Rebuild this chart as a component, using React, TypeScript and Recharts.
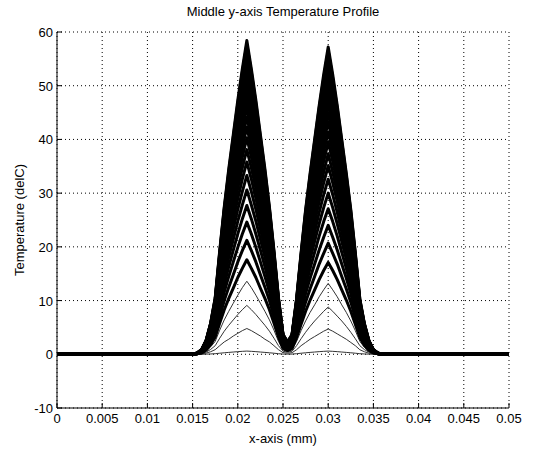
import { LineChart, Line, XAxis, YAxis, CartesianGrid } from "recharts"

const xs = [
  0, 0.015, 0.0155, 0.016, 0.0165, 0.017, 0.0175, 0.018, 0.0185, 0.019, 0.0195, 0.02, 0.0205, 0.021, 0.0215, 0.022,
  0.0225, 0.023, 0.0235, 0.024, 0.0245, 0.025, 0.0255, 0.026, 0.0265, 0.027, 0.0275, 0.028, 0.0285, 0.029, 0.0295,
  0.03, 0.0305, 0.031, 0.0315, 0.032, 0.0325, 0.033, 0.0335, 0.034, 0.0345, 0.035, 0.0355, 0.036, 0.05,
]

// temperature profiles, one per time step (delC)
const c01 = [0,0, 0,0.01,0.03,0.06, 0.11,0.2,0.28,0.35,0.42,0.49,0.55,0.6,0.55,0.49,0.42,0.35,0.28,0.2,0.11, 0.04,0.02,0.04, 0.11,0.2,0.28,0.35,0.42,0.49,0.55,0.6,0.55,0.49,0.42,0.35,0.28,0.2,0.11, 0.06,0.03,0.01,0, 0,0]
const c02 = [0,0, 0.02,0.07,0.22,0.48, 0.86,1.6,2.3,2.8,3.4,3.9,4.4,4.8,4.4,3.9,3.4,2.8,2.3,1.6,0.86, 0.31,0.19,0.3, 0.85,1.6,2.2,2.8,3.3,3.8,4.3,4.7,4.3,3.8,3.3,2.8,2.2,1.6,0.85, 0.47,0.21,0.07,0.02, 0,0]
const c03 = [0,0, 0.04,0.14,0.41,0.91, 1.6,3,4.3,5.4,6.4,7.4,8.3,9.1,8.3,7.4,6.4,5.4,4.3,3,1.6, 0.59,0.36,0.57, 1.6,2.9,4.1,5.2,6.2,7.1,8,8.8,8,7.1,6.2,5.2,4.1,2.9,1.6, 0.88,0.4,0.13,0.04, 0,0]
const c04 = [0,0, 0.05,0.2,0.61,1.4, 2.4,4.5,6.4,8,9.5,11,12.4,13.6,12.4,11,9.5,8,6.4,4.5,2.4, 0.87,0.53,0.84, 2.4,4.4,6.2,7.8,9.2,10.7,12,13.2,12,10.7,9.2,7.8,6.2,4.4,2.4, 1.3,0.59,0.2,0.05, 0,0]
const c05 = [0,0, 0.07,0.26,0.79,1.8, 3.2,5.8,8.3,10.4,12.3,14.3,16,17.6,16,14.3,12.3,10.4,8.3,5.8,3.2, 1.1,0.69,1.1, 3.1,5.6,8,10.1,12,13.9,15.6,17.1,15.6,13.9,12,10.1,8,5.6,3.1, 1.7,0.77,0.26,0.07, 0,0]
const c06 = [0,0, 0.08,0.32,0.95,2.1, 3.8,7,10,12.5,14.8,17.2,19.3,21.2,19.3,17.2,14.8,12.5,10,7,3.8, 1.4,0.83,1.3, 3.7,6.8,9.7,12.2,14.5,16.8,18.8,20.7,18.8,16.8,14.5,12.2,9.7,6.8,3.7, 2.1,0.93,0.31,0.08, 0,0]
const c07 = [0,0, 0.1,0.37,1.1,2.5, 4.4,8.1,11.6,14.5,17.2,19.9,22.4,24.6,22.4,19.9,17.2,14.5,11.6,8.1,4.4, 1.6,0.97,1.5, 4.3,7.9,11.3,14.2,16.8,19.4,21.8,24,21.8,19.4,16.8,14.2,11.3,7.9,4.3, 2.4,1.1,0.36,0.1, 0,0]
const c08 = [0,0, 0.11,0.42,1.2,2.8, 5,9.1,13,16.3,19.4,22.4,25.2,27.7,25.2,22.4,19.4,16.3,13,9.1,5, 1.8,1.1,1.7, 4.9,8.9,12.7,16,19,22,24.7,27.1,24.7,22,19,16,12.7,8.9,4.9, 2.7,1.2,0.41,0.11, 0,0]
const c09 = [0,0, 0.12,0.46,1.4,3.1, 5.5,10.1,14.4,18.1,21.4,24.8,27.8,30.6,27.8,24.8,21.4,18.1,14.4,10.1,5.5, 2,1.2,1.9, 5.4,9.9,14.1,17.7,21,24.3,27.3,30,27.3,24.3,21,17.7,14.1,9.9,5.4, 3,1.4,0.45,0.12, 0,0]
const c10 = [0,0, 0.13,0.5,1.5,3.3, 6,11,15.7,19.6,23.3,27,30.3,33.3,30.3,27,23.3,19.6,15.7,11,6, 2.1,1.3,2.1, 5.9,10.8,15.3,19.2,22.8,26.4,29.7,32.6,29.7,26.4,22.8,19.2,15.3,10.8,5.9, 3.3,1.5,0.49,0.13, 0,0]
const c11 = [0,0, 0.14,0.54,1.6,3.6, 6.4,11.8,16.8,21.1,25.1,29,32.6,35.8,32.6,29,25.1,21.1,16.8,11.8,6.4, 2.3,1.4,2.3, 6.3,11.6,16.5,20.7,24.6,28.4,31.9,35.1,31.9,28.4,24.6,20.7,16.5,11.6,6.3, 3.5,1.6,0.53,0.14, 0,0]
const c12 = [0,0, 0.15,0.57,1.7,3.8, 6.9,12.6,17.9,22.5,26.7,30.9,34.7,38.1,34.7,30.9,26.7,22.5,17.9,12.6,6.9, 2.4,1.5,2.4, 6.7,12.3,17.5,22,26.1,30.2,33.9,37.3,33.9,30.2,26.1,22,17.5,12.3,6.7, 3.7,1.7,0.56,0.15, 0,0]
const c13 = [0,0, 0.16,0.6,1.8,4, 7.3,13.3,18.9,23.8,28.2,32.6,36.7,40.3,36.7,32.6,28.2,23.8,18.9,13.3,7.3, 2.6,1.6,2.5, 7.1,13,18.6,23.3,27.7,32,35.9,39.5,35.9,32,27.7,23.3,18.6,13,7.1, 4,1.8,0.59,0.16, 0,0]
const c14 = [0,0, 0.17,0.63,1.9,4.2, 7.6,14,19.9,25,29.6,34.3,38.5,42.3,38.5,34.3,29.6,25,19.9,14,7.6, 2.7,1.7,2.7, 7.5,13.7,19.5,24.4,29,33.5,37.7,41.4,37.7,33.5,29,24.4,19.5,13.7,7.5, 4.1,1.9,0.62,0.17, 0,0]
const c15 = [0,0, 0.18,0.66,2,4.4, 8,14.6,20.8,26.1,30.9,35.8,40.2,44.2,40.2,35.8,30.9,26.1,20.8,14.6,8, 2.8,1.8,2.8, 7.8,14.3,20.4,25.5,30.3,35.1,39.4,43.3,39.4,35.1,30.3,25.5,20.4,14.3,7.8, 4.3,1.9,0.65,0.17, 0,0]
const c16 = [0,0, 0.18,0.69,2.1,4.6, 8.3,15.2,21.6,27.1,32.2,37.3,41.9,46,41.9,37.3,32.2,27.1,21.6,15.2,8.3, 2.9,1.8,2.9, 8.1,14.9,21.2,26.6,31.5,36.5,41,45,41,36.5,31.5,26.6,21.2,14.9,8.1, 4.5,2,0.68,0.18, 0,0]
const c17 = [0,0, 0.19,0.72,2.1,4.8, 8.6,15.7,22.4,28.1,33.4,38.6,43.4,47.7,43.4,38.6,33.4,28.1,22.4,15.7,8.6, 3.1,1.9,3, 8.4,15.4,21.9,27.6,32.7,37.8,42.5,46.7,42.5,37.8,32.7,27.6,21.9,15.4,8.4, 4.7,2.1,0.7,0.19, 0,0]
const c18 = [0,0, 0.2,0.74,2.2,4.9, 8.9,16.3,23.2,29.1,34.5,39.9,44.9,49.3,44.9,39.9,34.5,29.1,23.2,16.3,8.9, 3.2,2,3.1, 8.7,15.9,22.7,28.5,33.8,39.1,44,48.3,44,39.1,33.8,28.5,22.7,15.9,8.7, 4.8,2.2,0.72,0.19, 0,0]
const c19 = [0,0, 0.2,0.76,2.3,5.1, 9.1,16.8,23.9,30,35.6,41.1,46.2,50.8,46.2,41.1,35.6,30,23.9,16.8,9.1, 3.3,2,3.2, 8.9,16.4,23.4,29.3,34.8,40.3,45.2,49.7,45.2,40.3,34.8,29.3,23.4,16.4,8.9, 5,2.2,0.75,0.2, 0,0]
const c20 = [0,0, 0.21,0.78,2.3,5.2, 9.4,17.2,24.5,30.8,36.5,42.3,47.5,52.2,47.5,42.3,36.5,30.8,24.5,17.2,9.4, 3.3,2,3.3, 9.2,16.9,24,30.1,35.8,41.4,46.5,51.1,46.5,41.4,35.8,30.1,24,16.9,9.2, 5.1,2.3,0.77,0.2, 0,0]
const c21 = [0,0, 0.21,0.8,2.4,5.4, 9.6,17.7,25.1,31.6,37.5,43.3,48.7,53.5,48.7,43.3,37.5,31.6,25.1,17.7,9.6, 3.4,2.1,3.4, 9.4,17.3,24.6,30.9,36.7,42.4,47.7,52.4,47.7,42.4,36.7,30.9,24.6,17.3,9.4, 5.2,2.4,0.79,0.21, 0,0]
const c22 = [0,0, 0.22,0.82,2.5,5.5, 9.8,18.1,25.7,32.3,38.3,44.3,49.8,54.7,49.8,44.3,38.3,32.3,25.7,18.1,9.8, 3.5,2.2,3.4, 9.6,17.7,25.2,31.6,37.5,43.4,48.8,53.6,48.8,43.4,37.5,31.6,25.2,17.7,9.6, 5.4,2.4,0.8,0.21, 0,0]
const c23 = [0,0, 0.22,0.84,2.5,5.6, 10,18.4,26.2,32.9,39.1,45.2,50.8,55.8,50.8,45.2,39.1,32.9,26.2,18.4,10, 3.6,2.2,3.5, 9.8,18,25.7,32.2,38.2,44.2,49.7,54.6,49.7,44.2,38.2,32.2,25.7,18,9.8, 5.5,2.5,0.82,0.22, 0,0]
const c24 = [0,0, 0.23,0.85,2.6,5.7, 10.2,18.7,26.7,33.5,39.8,46,51.7,56.8,51.7,46,39.8,33.5,26.7,18.7,10.2, 3.6,2.2,3.6, 10,18.3,26.1,32.8,38.9,45,50.6,55.6,50.6,45,38.9,32.8,26.1,18.3,10, 5.6,2.5,0.83,0.22, 0,0]
const c25 = [0,0, 0.23,0.87,2.6,5.8, 10.4,19,27.1,34,40.4,46.7,52.5,57.7,52.5,46.7,40.4,34,27.1,19,10.4, 3.7,2.3,3.6, 10.2,18.6,26.6,33.3,39.6,45.8,51.4,56.5,51.4,45.8,39.6,33.3,26.6,18.6,10.2, 5.7,2.5,0.85,0.23, 0,0]
const c26 = [0,0, 0.23,0.88,2.6,5.8, 10.5,19.3,27.4,34.5,40.9,47.3,53.1,58.4,53.1,47.3,40.9,34.5,27.4,19.3,10.5, 3.7,2.3,3.7, 10.3,18.9,26.9,33.7,40,46.3,52.1,57.2,52.1,46.3,40,33.7,26.9,18.9,10.3, 5.7,2.6,0.86,0.23, 0,0]

const runs = [c01, c02, c03, c04, c05, c06, c07, c08, c09, c10, c11, c12, c13, c14, c15, c16, c17, c18, c19, c20, c21, c22, c23, c24, c25, c26]
const thinRuns = 4

const xTicks = [0, 0.005, 0.01, 0.015, 0.02, 0.025, 0.03, 0.035, 0.04, 0.045, 0.05]
const yTicks = [-10, 0, 10, 20, 30, 40, 50, 60]

const data = xs.map((x, i) => {
  const row: Record<string, number> = { x }
  runs.forEach((r, k) => {
    row["t" + k] = r[i]
  })
  return row
})

const FONT = "'Liberation Sans', Arial, sans-serif"

// matlab style ticks point into the axes
const XTick = ({ x, y, payload }: any) => (
  <g>
    <line x1={x} x2={x} y1={y} y2={y - 5} stroke="#000" />
    <text x={x} y={y + 15} textAnchor="middle" fontSize={13} fontFamily={FONT} fill="#000">
      {payload.value}
    </text>
  </g>
)

const YTick = ({ x, y, payload }: any) => (
  <g>
    <line x1={x} x2={x + 5} y1={y} y2={y} stroke="#000" />
    <text x={x - 4} y={y + 5} textAnchor="end" fontSize={13} fontFamily={FONT} fill="#000">
      {payload.value}
    </text>
  </g>
)

export default function App() {
  return (
    <div style={{ position: "absolute", left: 0, top: 0, width: 550, height: 449, background: "#fff", fontFamily: FONT }}>
      <LineChart width={550} height={449} data={data} margin={{ top: 32, right: 41, bottom: 0, left: 0 }}>
        <CartesianGrid stroke="#000" strokeDasharray="1 3" />
        <XAxis
          dataKey="x"
          type="number"
          domain={[0, 0.05]}
          ticks={xTicks}
          interval={0}
          height={41}
          tickSize={0}
          tickMargin={0}
          tickLine={false}
          tick={<XTick />}
          axisLine={{ stroke: "#000" }}
        />
        <YAxis
          type="number"
          domain={[-10, 60]}
          ticks={yTicks}
          interval={0}
          width={57}
          tickSize={0}
          tickMargin={0}
          tickLine={false}
          tick={<YTick />}
          axisLine={{ stroke: "#000" }}
        />
        {runs.map((_, k) => (
          <Line
            key={k}
            dataKey={"t" + k}
            type="linear"
            stroke={k < thinRuns ? "#333" : "#000"}
            strokeWidth={k < thinRuns ? 1 : 3}
            strokeLinejoin="round"
            dot={false}
            activeDot={false}
            isAnimationActive={false}
          />
        ))}
      </LineChart>
      <div style={{ position: "absolute", left: 283, top: 11, transform: "translate(-50%, -50%)", fontSize: 13, whiteSpace: "nowrap" }}>
        Middle y-axis Temperature Profile
      </div>
      <div style={{ position: "absolute", left: 283, top: 438, transform: "translate(-50%, -50%)", fontSize: 13, whiteSpace: "nowrap" }}>
        x-axis (mm)
      </div>
      <div
        style={{
          position: "absolute",
          left: 19,
          top: 220,
          transform: "translate(-50%, -50%) rotate(-90deg)",
          fontSize: 13,
          whiteSpace: "nowrap",
        }}
      >
        Temperature (delC)
      </div>
    </div>
  )
}
